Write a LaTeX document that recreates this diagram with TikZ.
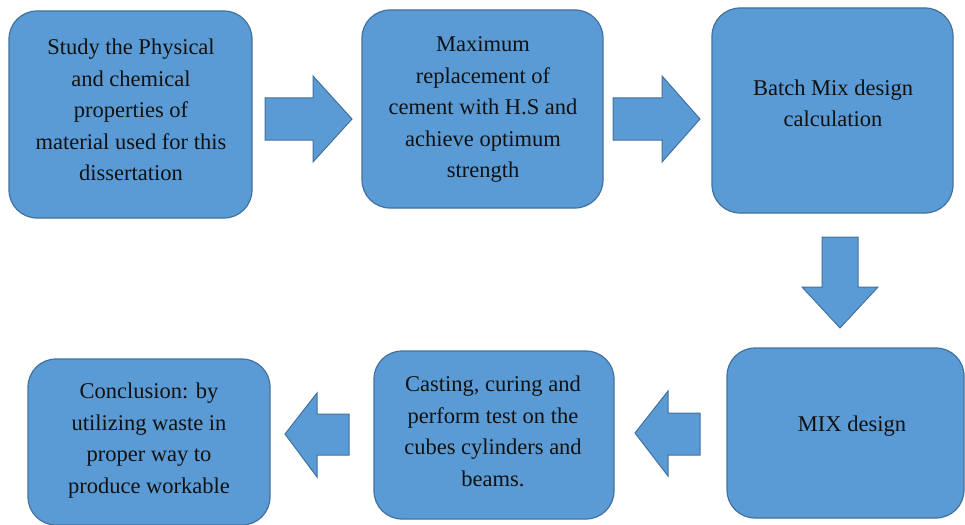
\documentclass[tikz,border=0pt]{standalone}
\usepackage{fontspec}
\setmainfont{Liberation Serif}
\newfontfamily\tnr{Liberation Serif}
\definecolor{boxfill}{HTML}{5B9BD5}
\definecolor{boxline}{HTML}{41719C}
\definecolor{txt}{HTML}{111111}
\tikzset{
  box/.style={draw=boxline, fill=boxfill, line width=1.2pt, rounded corners=28pt, inner sep=0pt, outer sep=0pt},
  lbl/.style={align=center, inner sep=0pt, text=txt, font=\tnr\fontsize{22.5}{31.5}\selectfont},
  blockarrow/.style={draw=boxline, fill=boxfill, line width=1pt, line join=miter}
}
\begin{document}
\begin{tikzpicture}[x=1pt,y=-1pt]
\useasboundingbox (0,0) rectangle (965,524);
% boxes
\node[box, minimum width=243pt, minimum height=207pt] (b1) at (130.5,114.5) {};
\node[box, minimum width=241pt, minimum height=198pt] (b2) at (482.5,109) {};
\node[box, minimum width=241pt, minimum height=205pt] (b3) at (832.5,110.5) {};
\node[box, minimum width=237pt, minimum height=170pt] (b4) at (845.5,433) {};
\node[box, minimum width=240pt, minimum height=168pt] (b5) at (494,435) {};
\node[box, minimum width=242pt, minimum height=166pt] (b6) at (149,442) {};
% texts
\node[lbl] (t1) at (131,110) {Study the Physical\\and chemical\\properties of\\material used for this\\dissertation};
\node[lbl] (t2) at (483,109.5) {Maximum\\replacement of\\cement with H.S and\\achieve optimum\\strength};
\node[lbl] (t3) at (833,103.5) {Batch Mix design\\calculation};
\node[lbl] (t4) at (852,426) {MIX design};
\node[lbl] (t5) at (493,431.5) {Casting, curing and\\perform test on the\\cubes cylinders and\\beams.};
\node[lbl] (t6) at (149,440.5) {Conclusion: by\\utilizing waste in\\proper way to\\produce workable};
% block arrows
\draw[blockarrow] (265,98) -- (313,98) -- (313,76) -- (352,119) -- (313,162) -- (313,140) -- (265,140) -- cycle;
\draw[blockarrow] (613,98) -- (662,98) -- (662,76) -- (700,119) -- (662,162) -- (662,140) -- (613,140) -- cycle;
\draw[blockarrow] (822,237) -- (858,237) -- (858,287) -- (878,287) -- (840,328) -- (802,287) -- (822,287) -- cycle;
\draw[blockarrow] (700,413) -- (668,413) -- (668,391) -- (635,433) -- (668,476) -- (668,455) -- (700,455) -- cycle;
\draw[blockarrow] (349,414) -- (317,414) -- (317,393) -- (285,434) -- (317,477) -- (317,455) -- (349,455) -- cycle;
\end{tikzpicture}
\end{document}
